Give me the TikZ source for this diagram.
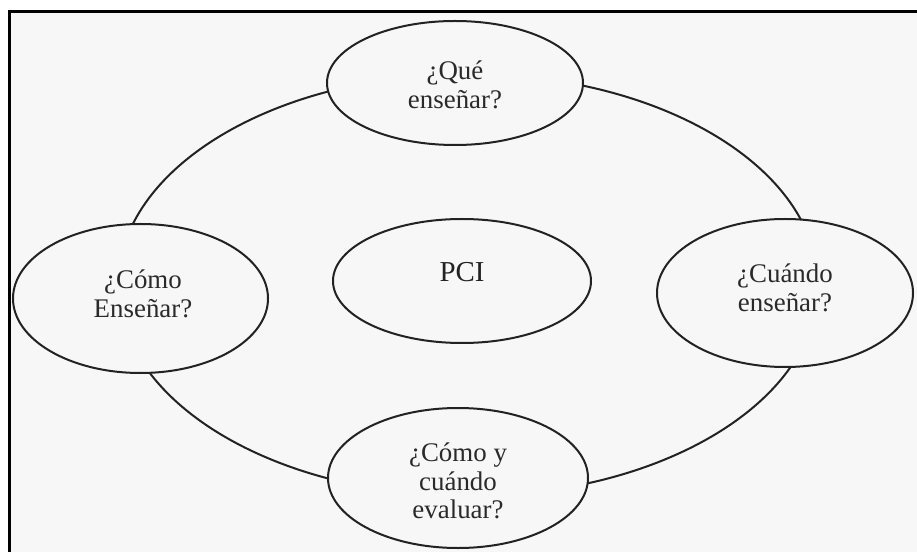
\documentclass[tikz,border=0pt]{standalone}
\usepackage{fontspec}
\setmainfont{Liberation Serif}
\usetikzlibrary{shapes.geometric}
\definecolor{paper}{HTML}{F7F7F7}
\definecolor{ink}{HTML}{222222}
\definecolor{txt}{HTML}{2A2A2A}
\tikzset{
  bubble/.style={ellipse, draw=ink, line width=2bp, fill=paper, inner sep=0pt},
  ring/.style={ellipse, draw=ink, line width=2bp, inner sep=0pt},
  qtext/.style={align=center, text=txt, inner sep=0pt,
    font=\fontsize{27}{28.5}\selectfont},
  bigtext/.style={text=txt!80!black, inner sep=0pt,
    font=\fontsize{29}{30}\selectfont}
}
\begin{document}
\begin{tikzpicture}[x=1bp,y=-1bp]
  \useasboundingbox (0,0) rectangle (917,552);
  \fill[white] (0,0) rectangle (917,552);
  \fill[paper] (9.5,11.5) rectangle (917,552);
  \draw[line width=3bp, black] (9.5,560) |- (925,11.5);

  % outer cycle behind the question bubbles
  \node[ring, minimum width=700bp, minimum height=422bp] (cycle) at (468,285) {};

  % bubbles
  \node[bubble, minimum width=256bp, minimum height=124bp] (que) at (455,83) {};
  \node[bubble, minimum width=256bp, minimum height=148bp] (cuando) at (785,293) {};
  \node[bubble, minimum width=260bp, minimum height=140bp] (evaluar) at (458,478) {};
  \node[bubble, minimum width=255bp, minimum height=149bp] (como) at (140.5,298.5) {};
  \node[bubble, minimum width=258bp, minimum height=124bp] (pci) at (462,281) {};

  % texts
  \node[qtext] (queT) at (455,85) {¿Qué\\enseñar?};
  \node[qtext] (cuandoT) at (785,288) {¿Cuándo\\enseñar?};
  \node[qtext] (comoT) at (143,294) {¿Cómo\\Enseñar?};
  \node[qtext] (evaluarT) at (458,481) {¿Cómo y\\cuándo\\evaluar?};
  \node[bigtext] (pciT) at (462,272) {PCI};
\end{tikzpicture}
\end{document}
